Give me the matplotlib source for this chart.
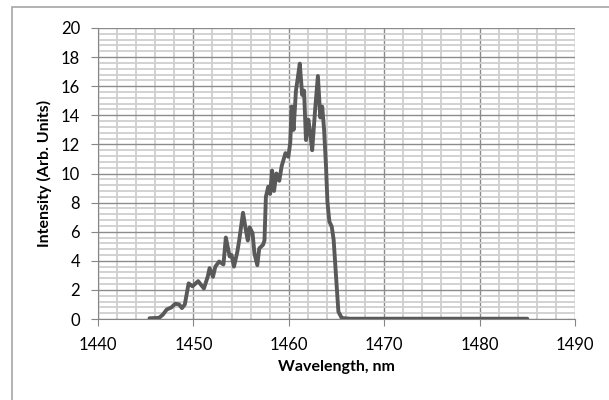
import numpy as np
import matplotlib
matplotlib.use("Agg")
import matplotlib.pyplot as plt
from matplotlib.patches import Rectangle
from matplotlib.ticker import MultipleLocator

plt.rcParams['font.family'] = ['Lato', 'DejaVu Sans']

# spectrum (wavelength in nm, intensity in arb. units)
wavelength = [1445.4, 1446.4, 1446.8, 1447.2, 1447.7, 1448.1, 1448.5, 1448.8, 1449.1,
              1449.5, 1449.9, 1450.5, 1451.1, 1451.5, 1451.7, 1452.05, 1452.3, 1452.7,
              1453.15, 1453.4, 1453.8, 1454.0, 1454.25, 1454.6, 1454.8, 1455.2, 1455.5,
              1455.7, 1455.9, 1456.2, 1456.4, 1456.7, 1456.9, 1457.3, 1457.45, 1457.6,
              1457.85, 1458.05, 1458.25, 1458.45, 1458.7, 1459.0, 1459.25, 1459.65,
              1459.95, 1460.15, 1460.3, 1460.5, 1460.75, 1460.95, 1461.15, 1461.4,
              1461.6, 1461.8, 1462.05, 1462.25, 1462.45, 1462.75, 1463.05, 1463.3,
              1463.5, 1463.7, 1463.9, 1464.05, 1464.25, 1464.5, 1464.7, 1465.0, 1465.2,
              1465.55, 1466.4, 1470.0, 1475.0, 1480.0, 1485.0]
intensity = [0.05, 0.08, 0.3, 0.65, 0.8, 1.05, 1.0, 0.75, 1.0,
             2.45, 2.25, 2.6, 2.1, 2.9, 3.5, 2.9, 3.6, 3.95,
             3.75, 5.6, 4.3, 4.4, 3.6, 4.6, 5.4, 7.3, 6.1,
             5.4, 6.3, 5.9, 4.5, 3.7, 4.85, 5.1, 5.4, 8.4,
             9.1, 8.6, 10.2, 8.8, 10.0, 9.5, 10.5, 11.4,
             11.15, 12.1, 14.6, 13.0, 15.7, 16.6, 17.55, 15.4,
             15.7, 12.3, 13.7, 12.75, 11.6, 14.3, 16.7, 13.85,
             14.6, 13.0, 10.5, 8.05, 6.7, 6.35, 5.45, 2.45, 0.5,
             0.07, 0.02, 0.02, 0.02, 0.02, 0.02]

fig = plt.figure(figsize=(6.09, 4.0), dpi=100)
ax = fig.add_axes([98 / 609, 81 / 400, 477 / 609, 291 / 400])

# chart border like an Excel chart area
fig.patches.append(Rectangle((11.5 / 609, -0.1), 1.2, 1.1 - 7 / 400,
                             transform=fig.transFigure, fill=False,
                             edgecolor='#a6a6a6', linewidth=1.2))

ax.plot(wavelength, intensity, color='#595959', linewidth=2.8,
        solid_joinstyle='round', solid_capstyle='round', zorder=3)

ax.set_xlim(1440, 1490)
ax.set_ylim(0, 20)
ax.xaxis.set_major_locator(MultipleLocator(10))
ax.xaxis.set_minor_locator(MultipleLocator(2))
ax.yaxis.set_major_locator(MultipleLocator(2))
ax.yaxis.set_minor_locator(MultipleLocator(0.4))

ax.grid(which='major', color='#8c8c8c', linewidth=1.0, zorder=1)
ax.grid(which='minor', color='#cfcfcf', linewidth=1.3, zorder=0)
ax.set_axisbelow(True)

for side in ['top', 'right']:
    ax.spines[side].set_visible(False)
for side in ['left', 'bottom']:
    ax.spines[side].set_color('#868686')

ax.tick_params(which='major', direction='out', length=5, color='#868686',
               labelsize=12, labelcolor='black')
ax.tick_params(axis='y', pad=8)
ax.tick_params(axis='x', pad=8)
ax.tick_params(which='minor', length=0)

ax.set_xlabel('Wavelength, nm', fontsize=11.5, fontweight='bold', labelpad=5)
ax.set_ylabel('Intensity (Arb. Units)', fontsize=11.5, fontweight='bold', labelpad=6)

fig.savefig('out.png', dpi=100)
